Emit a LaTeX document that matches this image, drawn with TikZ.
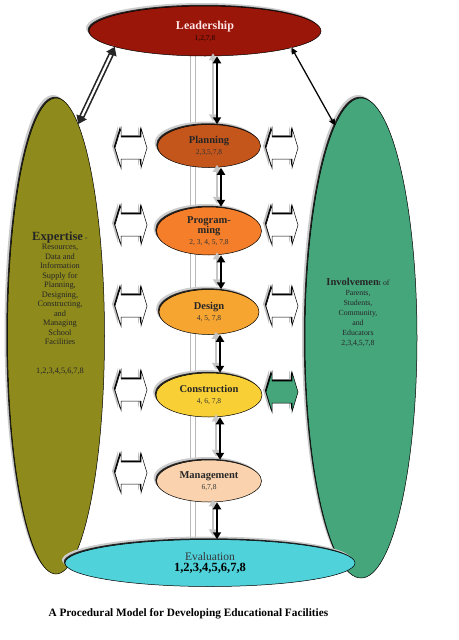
\documentclass[tikz,border=0pt]{standalone}
\usepackage{fontspec}
\setmainfont{Liberation Serif}
\usetikzlibrary{arrows.meta,shapes.geometric,shadows,backgrounds}

\definecolor{leadred}{HTML}{9A1608}
\definecolor{planbrown}{HTML}{C4561C}
\definecolor{progorange}{HTML}{F47E2A}
\definecolor{designorange}{HTML}{F7A531}
\definecolor{constryellow}{HTML}{F8D035}
\definecolor{mgmtpeach}{HTML}{FAD3AE}
\definecolor{evalcyan}{HTML}{4FD2D9}
\definecolor{exptolive}{HTML}{8E8A1C}
\definecolor{invgreen}{HTML}{45A57B}

\newcommand{\stagenums}[1]{{\mdseries\fontsize{7.5}{8.5}\selectfont\color{black!80}#1}}

\begin{document}
\begin{tikzpicture}[x=1pt,y=-1pt,
  rim/.style={ellipse,draw=black,line width=.5pt,inner sep=0pt,
    general shadow={shadow xshift=-3pt,shadow yshift=3pt,fill=gray!40},
    general shadow={shadow xshift=-1.2pt,shadow yshift=1.2pt,fill=black!85}},
  stage/.style={rim,align=center,text=black!85,font=\bfseries\fontsize{10.5}{10.5}\selectfont},
  swapshape/.style={draw=black,line width=.5pt,line join=miter,
    general shadow={shadow xshift=-3pt,shadow yshift=2pt,fill=gray!50},
    general shadow={shadow xshift=-1pt,shadow yshift=1.5pt,fill=black}},
  pics/swap/.style={code={\path[swapshape,fill=#1] (-16,0) -- (-10,-20) -- (-10,-11) -- (10,-11)
    -- (10,-20) -- (16,0) -- (10,20) -- (10,11) -- (-10,11) -- (-10,20) -- cycle;}},
  pics/swap/.default=white,
  stagearrow/.style={{Triangle[length=7pt,width=8pt]}-{Triangle[length=7pt,width=8pt]},
    line width=1.8pt,draw=black,
    preaction={draw=gray!45,line width=2.6pt,{Triangle[length=7pt,width=8pt]}-{Triangle[length=7pt,width=8pt]},
      transform canvas={shift={(-4pt,3pt)}}}},
  hollowarrow/.style={{Triangle[length=8pt,width=11pt]}-{Triangle[length=8pt,width=11pt]},
    line width=5.5pt,draw=black!85,
    preaction={draw=gray!50,-,transform canvas={shift={(-1.5pt,1.5pt)}}},
    postaction={draw=white,line width=2.2pt,-,shorten <=9pt,shorten >=9pt}},
  thinarrow/.style={{Triangle[length=6pt,width=6pt]}-{Triangle[length=6pt,width=6pt]},
    line width=1.2pt,draw=black,
    preaction={draw=gray!50,{Triangle[length=6pt,width=6pt]}-{Triangle[length=6pt,width=6pt]},
      transform canvas={shift={(-1.5pt,1.5pt)}}}},
  spine/.style={draw=gray!55,line width=1.2pt,double=white,double distance=3.5pt}
]
\useasboundingbox (0,0) rectangle (458,640);

% side ellipses
\node[rim,fill=exptolive,minimum width=97pt,minimum height=476pt] (expt) at (56,336) {};
\node[rim,fill=invgreen,minimum width=112pt,minimum height=480pt] (inv) at (361,338) {};
\node[align=center,text=black!85,font=\fontsize{8.3}{9.5}\selectfont] (expttext) at (60,303)
  {{\bfseries\fontsize{12.5}{10}\selectfont Expertise} -\\Resources,\\Data and\\Information\\Supply for\\
   Planning,\\Designing,\\Constructing,\\and\\Managing\\School\\Facilities\\[19pt]1,2,3,4,5,6,7,8};
\node[align=center,text=black!85,font=\fontsize{7.8}{10}\selectfont] (invtext) at (358,312)
  {{\bfseries\fontsize{10.5}{10}\selectfont Involvemen}t of\\Parents,\\Students,\\Community,\\and\\Educators\\2,3,4,5,7,8};

% top and bottom
\node[rim,fill=leadred,minimum width=232pt,minimum height=50pt,align=center] (lead) at (205,31)
  {{\bfseries\fontsize{12}{12}\selectfont\color{white!90!red}Leadership}\\[-1pt]
   {\bfseries\fontsize{7.5}{8}\selectfont\color{leadred!45!black}1,2,7,8}};
\node[rim,fill=evalcyan,minimum width=290pt,minimum height=47pt,align=center] (eval) at (210,563)
  {{\fontsize{11.5}{12}\selectfont\color{black!70!cyan!40!black}Evaluation}\\[-1pt]
   {\bfseries\fontsize{12.5}{13}\selectfont 1,2,3,4,5,6,7,8}};

% stages
\node[stage,fill=planbrown,minimum width=103pt,minimum height=43pt] (plan) at (209,146)
  {Planning\\\stagenums{2,3,5,7,8}};
\node[stage,fill=progorange,minimum width=105pt,minimum height=48pt] (prog) at (209,231)
  {Program-\\ming\\\stagenums{2, 3, 4, 5, 7,8}};
\node[stage,fill=designorange,minimum width=100pt,minimum height=45pt] (design) at (209,312)
  {Design\\\stagenums{4, 5, 7,8}};
\node[stage,fill=constryellow,minimum width=106pt,minimum height=44pt] (constr) at (209,395)
  {Construction\\\stagenums{4, 6, 7,8}};
\node[stage,fill=mgmtpeach,minimum width=105pt,minimum height=42pt] (mgmt) at (209,481)
  {Management\\\stagenums{6,7,8}};

% side exchange arrows
\pic (planL) at (131,148) {swap};
\pic (progL) at (131,225) {swap};
\pic (designL) at (131,306) {swap};
\pic (constrL) at (131,390) {swap};
\pic (mgmtL) at (131,473) {swap};
\pic (planR) at (282,148) {swap};
\pic (progR) at (282,225) {swap};
\pic (designR) at (282,306) {swap};
\pic (constrR) at (282,392) {swap=invgreen};

% connectors
\begin{scope}[on background layer]
\draw[spine] ([xshift=-12pt]lead.south) -- ([xshift=-12pt]lead.south |- eval.north);
\end{scope}
\draw[stagearrow] ([xshift=12pt]lead.south) -- ([xshift=8pt]plan.north);
\draw[stagearrow] ([xshift=12pt]plan.south) -- ([xshift=12pt]prog.north);
\draw[stagearrow] ([xshift=12pt]prog.south) -- ([xshift=12pt]design.north);
\draw[stagearrow] ([xshift=11pt]design.south) -- ([xshift=11pt]constr.north);
\draw[stagearrow] ([xshift=11pt]constr.south) -- ([xshift=11pt]mgmt.north);
\draw[stagearrow] ([xshift=8pt]mgmt.south) -- ([xshift=7pt]eval.north);
\draw[hollowarrow] (lead.190) -- (expt.84);
\draw[thinarrow] (lead.-11) -- (inv.97);

\node[anchor=west,font=\bfseries\fontsize{11.3}{13}\selectfont] (caption) at (45,614)
  {A Procedural Model for Developing Educational Facilities};
\end{tikzpicture}
\end{document}
